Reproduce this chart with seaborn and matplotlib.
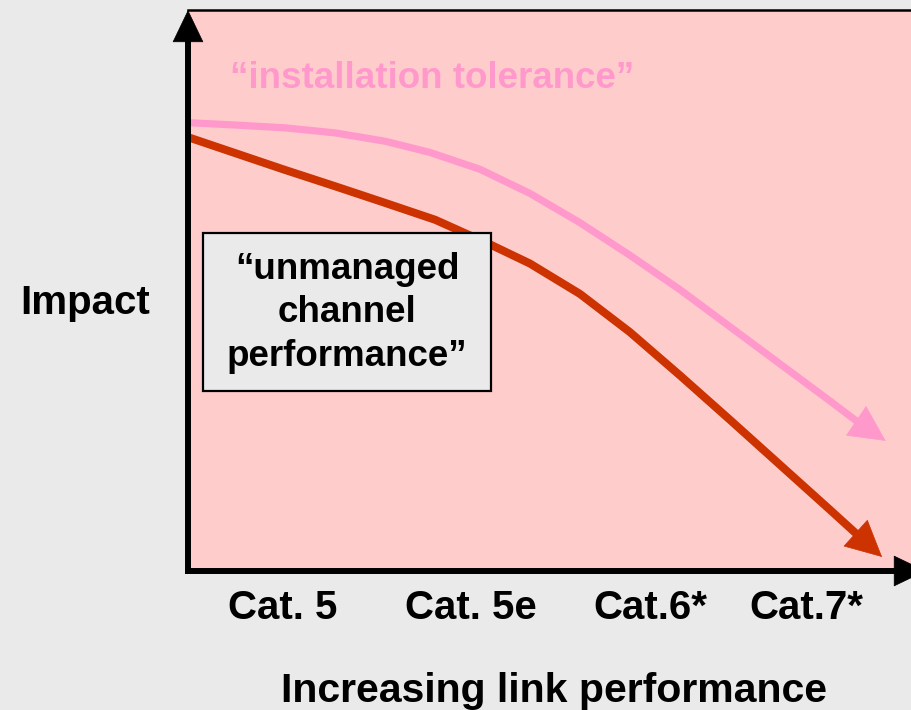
import matplotlib
matplotlib.use("Agg")
import matplotlib.pyplot as plt
from matplotlib.patches import Rectangle
import numpy as np
import pandas as pd
import seaborn as sns

# Curve data (x: link performance, y: impact); the last point is the arrow tip
tol_x = [0.3, 6.5, 13.4, 20.3, 27.3, 33.5, 40.4, 47.3, 54.2, 61.1, 68.1,
         75.0, 81.9, 88.8, 92.5, 96.5]
tol_y = [79.9, 79.5, 79.0, 78.1, 76.6, 74.6, 71.6, 67.3, 62.1, 56.3, 50.1,
         43.5, 36.9, 30.3, 26.7, 23.2]

chan_x = [0.3, 6.5, 13.4, 20.3, 27.3, 34.2, 41.8, 47.3, 54.2, 61.1, 68.1,
          75.0, 81.9, 88.8, 92.3, 96.0]
chan_y = [77.2, 74.5, 71.5, 68.6, 65.6, 62.6, 58.2, 54.8, 49.4, 42.6, 34.8,
          26.9, 18.9, 10.9, 6.8, 2.5]

categories = ["Cat. 5", "Cat. 5e", "Cat.6*", "Cat.7*"]
cat_pos = [13.1, 39.1, 63.9, 85.5]

BG = "#EAEAEA"
PANEL = "#FFCCCC"
PINK = "#FF99CC"
RED = "#CC3300"

sns.set_style("white")
plt.rcParams["font.family"] = ["Liberation Sans", "DejaVu Sans"]
plt.rcParams["font.weight"] = "bold"
plt.rcParams["text.color"] = "black"
plt.rcParams["axes.labelcolor"] = "black"
plt.rcParams["xtick.color"] = "black"

W, H = 911, 710
fig = plt.figure(figsize=(W / 100, H / 100), dpi=100, facecolor=BG)
ax = fig.add_axes([188 / W, (H - 571) / H, (W - 188) / W, 561 / H])
ax.set_facecolor(PANEL)
ax.set_xlim(0, 100)
ax.set_ylim(0, 100)

for side in ["left", "bottom", "right"]:
    ax.spines[side].set_visible(False)
ax.spines["top"].set_linewidth(1.8)
ax.spines["top"].set_color("black")

df_tol = pd.DataFrame({"perf": tol_x, "impact": tol_y})
df_chan = pd.DataFrame({"perf": chan_x, "impact": chan_y})

# Curves up to the base of the arrow head, then a filled head to the tip
for df, col, lw in [(df_tol, PINK, 5.2), (df_chan, RED, 5.8)]:
    sns.lineplot(data=df.iloc[:-1], x="perf", y="impact", ax=ax, color=col,
                 linewidth=lw, estimator=None, zorder=3)
    ax.annotate("", xy=(df.perf.iloc[-1], df.impact.iloc[-1]),
                xytext=(df.perf.iloc[-2], df.impact.iloc[-2]),
                arrowprops=dict(arrowstyle="-|>,head_length=1.0,head_width=0.5",
                                mutation_scale=25, color=col, lw=0.5,
                                shrinkA=0, shrinkB=0), zorder=4)
for line in ax.lines:
    line.set_solid_joinstyle("round")

# Axis arrows
tr = ax.transAxes
ax.plot([0, 0], [0, 0.945], color="black", lw=4.3, transform=tr,
        clip_on=False, solid_capstyle="projecting", zorder=6)
ax.plot([0, 0.978], [0, 0], color="black", lw=4.3, transform=tr,
        clip_on=False, solid_capstyle="projecting", zorder=6)
ax.annotate("", xy=(0.0, 1.0), xytext=(0.0, 0.94), xycoords="axes fraction",
            arrowprops=dict(arrowstyle="-|>,head_length=1.0,head_width=0.48",
                            mutation_scale=22.3, color="black", lw=0.5,
                            shrinkA=0, shrinkB=0),
            annotation_clip=False, zorder=6)
ax.annotate("", xy=(1.0207, 0.0), xytext=(0.975, 0.0), xycoords="axes fraction",
            arrowprops=dict(arrowstyle="-|>,head_length=1.0,head_width=0.48",
                            mutation_scale=22.3, color="black", lw=0.5,
                            shrinkA=0, shrinkB=0),
            annotation_clip=False, zorder=6)

# Annotation box
ax.add_patch(Rectangle((2.07, 32.1), 39.8, 28.2, facecolor=BG,
                       edgecolor="black", linewidth=1.6, zorder=5))
ax.text(22.0, 46.0, "\u201cunmanaged\nchannel\nperformance\u201d",
        ha="center", va="center", fontsize=26.5, fontweight="bold",
        linespacing=1.3, color="black", zorder=6)

ax.text(5.8, 86.1, "\u201cinstallation tolerance\u201d", ha="left",
        va="baseline", fontsize=26.5, fontweight="bold", color=PINK, zorder=3)

ax.set_xticks(cat_pos)
ax.set_xticklabels(categories, fontsize=29, fontweight="bold", color="black")
ax.set_yticks([])
ax.tick_params(axis="x", length=0, pad=13)

ax.set_xlabel("Increasing link performance", fontsize=29.5, fontweight="bold",
              color="black")
ax.xaxis.set_label_coords(0.506, -0.214)
ax.xaxis.label.set_va("center")
ax.set_ylabel("Impact", fontsize=29, fontweight="bold", rotation=0,
              color="black")
ax.yaxis.set_label_coords(-0.142, 0.478)
ax.yaxis.label.set_va("center")
ax.yaxis.label.set_ha("center")

fig.savefig("out.png", dpi=100, facecolor=BG)
